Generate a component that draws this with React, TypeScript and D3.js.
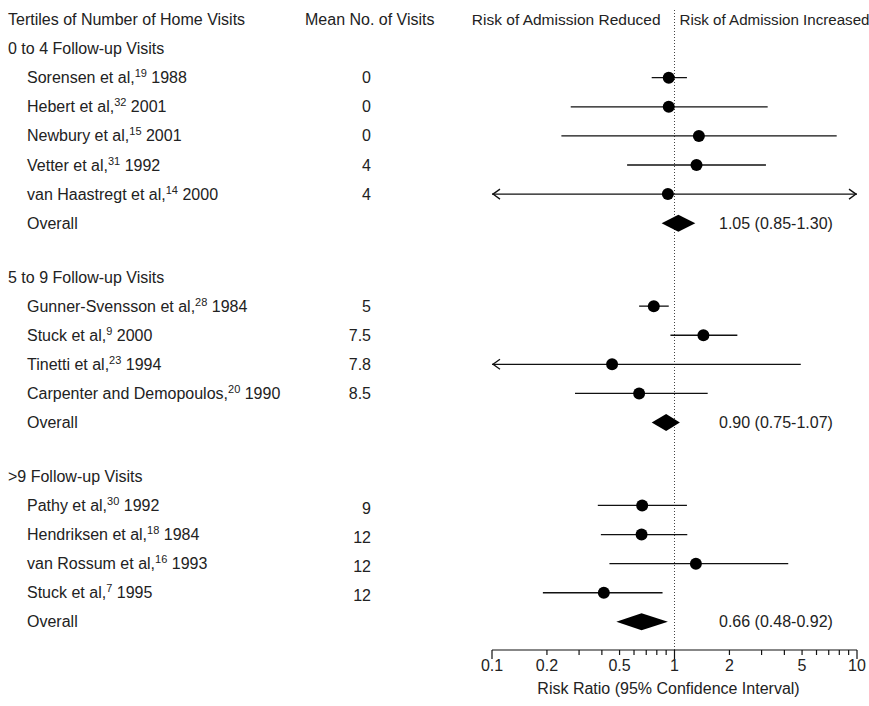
import React, { useEffect } from 'react';
import * as d3 from 'd3';

// rows of the forest plot
const groupTitles = ['0 to 4 Follow-up Visits', '5 to 9 Follow-up Visits', '>9 Follow-up Visits'];
const studyNames = [
  'Sorensen et al,', 'Hebert et al,', 'Newbury et al,', 'Vetter et al,', 'van Haastregt et al,',
  'Gunner-Svensson et al,', 'Stuck et al,', 'Tinetti et al,', 'Carpenter and Demopoulos,',
  'Pathy et al,', 'Hendriksen et al,', 'van Rossum et al,', 'Stuck et al,',
];
const studyRefs = ['19', '32', '15', '31', '14', '28', '9', '23', '20', '30', '18', '16', '7'];
const studyYears = ['1988', '2001', '2001', '1992', '2000', '1984', '2000', '1994', '1990', '1992', '1984', '1993', '1995'];
const studyGroup = [0, 0, 0, 0, 0, 1, 1, 1, 1, 2, 2, 2, 2];
const meanVisits = ['0', '0', '0', '4', '4', '5', '7.5', '7.8', '8.5', '9', '12', '12', '12'];
const riskRatio = [0.93, 0.93, 1.36, 1.32, 0.92, 0.77, 1.44, 0.455, 0.64, 0.665, 0.66, 1.31, 0.41];
const ciLow = [0.75, 0.27, 0.24, 0.55, 0.05, 0.64, 0.95, 0.05, 0.285, 0.38, 0.395, 0.44, 0.19];
const ciHigh = [1.17, 3.24, 7.74, 3.17, 20, 0.93, 2.21, 4.92, 1.52, 1.17, 1.175, 4.2, 0.86];

const overallRR = [1.05, 0.9, 0.66];
const overallLow = [0.85, 0.75, 0.48];
const overallHigh = [1.3, 1.07, 0.92];

const tickLabels = [0.1, 0.2, 0.5, 1, 2, 5, 10];

const W = 869;
const H = 706;
const FONT = '"Liberation Sans", Arial, Helvetica, sans-serif';
const FS = 16;
const TXT = '#222';

const x = d3.scaleLog().domain([0.1, 10]).range([492, 857]);
const y = d3.scaleLinear().domain([0, 1]).range([19.5, 48.6]);
const fmt = d3.format('.2f');

// slot positions for each line of the table
const layout = () => {
  const groupSlot: number[] = [];
  const studySlot: number[] = [];
  const overallSlot: number[] = [];
  let s = 1;
  groupTitles.forEach((_, g) => {
    if (g > 0) s += 1.85;
    groupSlot.push(s);
    studyGroup.forEach((sg, i) => {
      if (sg === g) {
        s += 1;
        studySlot[i] = s;
      }
    });
    s += 1;
    overallSlot.push(s);
  });
  return { groupSlot, studySlot, overallSlot };
};

const App = () => {
  useEffect(() => {
    document.body.style.margin = '0';
  }, []);

  const { groupSlot, studySlot, overallSlot } = layout();
  const [d0, d1] = x.domain();
  const x1 = x(1);
  const axisY = 650;
  const base = 5.5;

  return (
    <svg width={W} height={H} style={{ display: 'block' }} fontFamily={FONT} fontSize={FS} fill={TXT}>
      <rect width={W} height={H} fill="#fff" />

      {/* headers */}
      <text x={8} y={y(0) + base}>Tertiles of Number of Home Visits</text>
      <text x={305} y={y(0) + base}>Mean No. of Visits</text>
      <text x={x1 - 14} y={y(0) + base} textAnchor="end" fontSize={15.5}>Risk of Admission Reduced</text>
      <text x={x1 + 5} y={y(0) + base} fontSize={15.2} textLength={190} lengthAdjust="spacingAndGlyphs">Risk of Admission Increased</text>

      {/* reference line */}
      <line x1={x1} x2={x1} y1={10} y2={axisY} stroke="#444" strokeWidth={1} strokeDasharray="1,2" />

      {groupTitles.map((t, g) => (
        <text key={'g' + g} x={8} y={y(groupSlot[g]) + base}>{t}</text>
      ))}

      {studyNames.map((n, i) => {
        const yy = y(studySlot[i]);
        const lo = Math.max(ciLow[i], d0);
        const hi = Math.min(ciHigh[i], d1);
        const xl = x(lo);
        const xr = x(hi);
        return (
          <g key={'s' + i}>
            <text x={27} y={yy + base}>
              <tspan>{n}</tspan>
              <tspan dy={-6} fontSize={11}>{studyRefs[i]}</tspan>
              <tspan dy={6}>{' ' + studyYears[i]}</tspan>
            </text>
            <text x={371} y={yy + base + (studyGroup[i] === 2 ? 3 : 0)} textAnchor="end">{meanVisits[i]}</text>
            <line x1={xl} x2={xr} y1={yy} y2={yy} stroke="#111" strokeWidth={1.3} />
            {ciLow[i] < d0 && (
              <path d={`M${xl + 8},${yy - 5}L${xl + 1},${yy}L${xl + 8},${yy + 5}`} fill="none" stroke="#111" strokeWidth={1.3} />
            )}
            {ciHigh[i] > d1 && (
              <path d={`M${xr - 8},${yy - 5}L${xr - 1},${yy}L${xr - 8},${yy + 5}`} fill="none" stroke="#111" strokeWidth={1.3} />
            )}
            <circle cx={x(riskRatio[i])} cy={yy} r={6} fill="#000" />
          </g>
        );
      })}

      {overallRR.map((rr, g) => {
        const yy = y(overallSlot[g]);
        const h = 8.5;
        const d = `M${x(overallLow[g])},${yy}L${x(rr)},${yy - h}L${x(overallHigh[g])},${yy}L${x(rr)},${yy + h}Z`;
        return (
          <g key={'o' + g}>
            <text x={27} y={yy + base}>Overall</text>
            <path d={d} fill="#000" />
            <text x={719} y={yy + base}>{`${fmt(rr)} (${fmt(overallLow[g])}-${fmt(overallHigh[g])})`}</text>
          </g>
        );
      })}

      {/* log axis */}
      <line x1={x(d0)} x2={x(d1)} y1={axisY} y2={axisY} stroke="#111" strokeWidth={1.2} />
      {x.ticks().map((t, i) => {
        const major = Math.abs(Math.log10(t) - Math.round(Math.log10(t))) < 1e-9;
        return (
          <line key={'t' + i} x1={x(t)} x2={x(t)} y1={axisY} y2={axisY + (major ? 9 : 5)} stroke="#111" strokeWidth={1.2} />
        );
      })}
      {tickLabels.map((t) => (
        <text key={'l' + t} x={x(t)} y={axisY + 21} textAnchor="middle">{String(t)}</text>
      ))}
      <text x={(x(d0) + x(d1)) / 2 - 6} y={axisY + 44} textAnchor="middle">Risk Ratio (95% Confidence Interval)</text>
    </svg>
  );
};

export default App;
